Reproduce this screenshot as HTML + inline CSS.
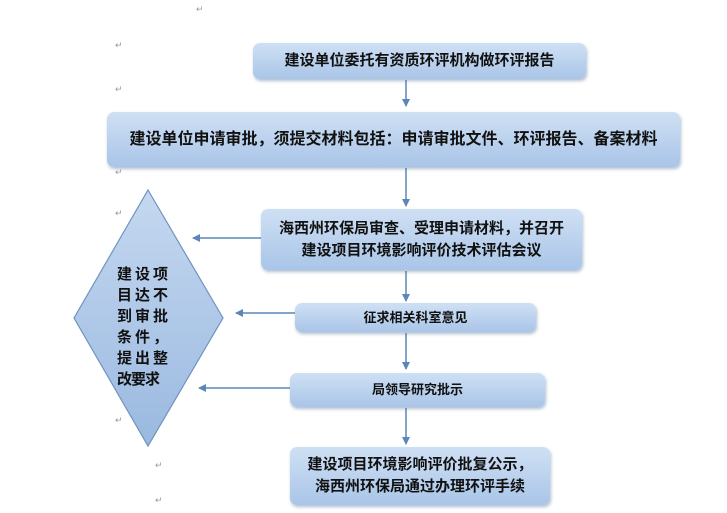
<!DOCTYPE html>
<html><head><meta charset="utf-8"><style>
body{margin:0;width:727px;height:513px;background:#fff;position:relative;overflow:hidden;font-family:"Liberation Sans","Noto Sans CJK SC","WenQuanYi Zen Hei",sans-serif;}
.b{position:absolute;box-sizing:border-box;border-radius:7px;background:linear-gradient(#cfe0f4,#a9c5e8);box-shadow:1px 2px 3px rgba(80,110,150,.45);display:flex;align-items:center;justify-content:center;text-align:center;font-weight:bold;color:#111;font-size:15px;line-height:22px;white-space:nowrap;}
.m{position:absolute;color:#999;font-size:9px;}
</style></head><body>
<svg width="727" height="513" style="position:absolute;left:0;top:0">
<defs><marker id="a" markerWidth="8" markerHeight="8" refX="7" refY="4" orient="auto" markerUnits="userSpaceOnUse"><path d="M0,0L8,4L0,8z" fill="#5b87b8"/></marker>
<linearGradient id="g" x1="0" y1="0" x2="0" y2="1"><stop offset="0" stop-color="#c5d8f0"/><stop offset="1" stop-color="#9ab9e0"/></linearGradient></defs>
<polygon points="148,190 223,318 148,446 74,318" fill="url(#g)" stroke="#6f93bf" stroke-width="1.2"/>
<g stroke="#5b87b8" stroke-width="1.5" marker-end="url(#a)">
<line x1="406" y1="80" x2="406" y2="106"/>
<line x1="406" y1="168" x2="406" y2="206"/>
<line x1="406" y1="271" x2="406" y2="301"/>
<line x1="406" y1="333" x2="406" y2="369"/>
<line x1="406" y1="408" x2="406" y2="444"/>
<line x1="261" y1="238" x2="193" y2="238"/>
<line x1="295" y1="313" x2="236" y2="313"/>
<line x1="290" y1="388" x2="199" y2="388"/>
</g></svg>
<div style="position:absolute;left:117px;top:264px;width:64px;font-weight:bold;font-size:15px;line-height:21px;letter-spacing:3px;color:#111">建设项目达不到审批条件，提出整<span style="letter-spacing:-1px">改要求</span></div>
<div class="b" style="left:253px;top:43px;width:333px;height:36px">建设单位委托有资质环评机构做环评报告</div>
<div class="b" style="left:107px;top:112px;width:573px;height:55px;font-size:16px">建设单位申请审批，须提交材料包括：申请审批文件、环评报告、备案材料</div>
<div class="b" style="left:261px;top:209px;width:321px;height:61px">海西州环保局审查、受理申请材料，并召开<br>建设项目环境影响评价技术评估会议</div>
<div class="b" style="left:295px;top:303px;width:241px;height:29px;font-size:13px">征求相关科室意见</div>
<div class="b" style="left:290px;top:373px;width:255px;height:34px;font-size:13px">局领导研究批示</div>
<div class="b" style="left:290px;top:447px;width:260px;height:58px">建设项目环境影响评价批复公示，<br>海西州环保局通过办理环评手续</div>
<span class="m" style="left:196px;top:4px">↵</span><span class="m" style="left:115px;top:40px">↵</span><span class="m" style="left:115px;top:84px">↵</span><span class="m" style="left:115px;top:167px">↵</span><span class="m" style="left:115px;top:208px">↵</span><span class="m" style="left:115px;top:415px">↵</span><span class="m" style="left:155px;top:460px">↵</span><span class="m" style="left:155px;top:495px">↵</span>
</body></html>
